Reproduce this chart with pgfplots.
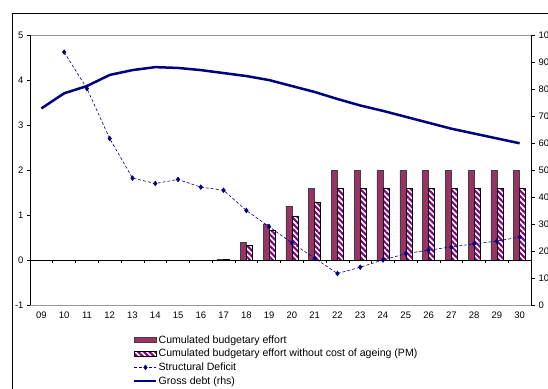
\documentclass[border=0pt]{standalone}
\usepackage{pgfplots}
\pgfplotsset{compat=1.18}
\usepackage{fontspec}
\setmainfont{Liberation Sans}
\usetikzlibrary{patterns.meta}
\definecolor{plum}{HTML}{993366}
\definecolor{purp}{HTML}{800080}
\definecolor{navy}{HTML}{000080}
\pgfplotsset{
  barleg/.style={legend image code/.code={\draw[##1] (0bp,-2.5bp) rectangle (22bp,2.5bp);}},
  markleg/.style={legend image code/.code={\draw[mark repeat=2,mark phase=2,##1] plot coordinates {(0bp,0bp)(11bp,0bp)(22bp,0bp)};}},
  lineleg/.style={legend image code/.code={\draw[##1] (0bp,0bp) -- (22bp,0bp);}},
}
\begin{document}
\begin{tikzpicture}
\begin{axis}[name=ax, at={(0,0)}, anchor=south west, scale only axis,
  width=501bp, height=270bp,
  xmin=-0.5, xmax=21.5, ymin=-1, ymax=5, ytick={-1,0,...,5},
  xtick={0,...,21},
  xticklabels={09,10,11,12,13,14,15,16,17,18,19,20,21,22,23,24,25,26,27,28,29,30},
  separate axis lines,
  x axis line style={draw=gray!80, line width=0.6bp},
  y axis line style={draw=black, line width=0.8bp},
  ytick pos=left, xtick pos=bottom,
  x tick style={draw=none}, y tick style={black, line width=0.6bp},
  major tick length=3bp, tick align=outside,
  tick label style={font=\fontsize{9.5}{10}\selectfont},
  /pgf/number format/assume math mode=true,
  legend style={at={(0.2056,-0.108)}, anchor=north west, draw=none, fill=none,
    font=\fontsize{10.6}{12}\selectfont, inner sep=0pt, row sep=2.6bp,
    nodes={inner sep=1bp}},
  legend cell align=left,
]
\addplot[ybar, bar width=6bp, bar shift=-3bp, fill=plum, draw=black!75, line width=0.5bp, barleg]
  coordinates {(8,0.01)(9,0.4)(10,0.8)(11,1.2)(12,1.6)(13,2)(14,2)(15,2)(16,2)(17,2)(18,2)(19,2)(20,2)(21,2)};
\addlegendentry{Cumulated budgetary effort}
\addplot[ybar, bar width=6bp, bar shift=3bp, draw=black, line width=0.5bp,
  pattern={Lines[angle=-45,distance=4bp,line width=2.1bp]}, pattern color=purp, barleg]
  coordinates {(8,0.01)(9,0.33)(10,0.66)(11,0.98)(12,1.29)(13,1.6)(14,1.6)(15,1.6)(16,1.6)(17,1.6)(18,1.6)(19,1.6)(20,1.6)(21,1.6)};
\addlegendentry{Cumulated budgetary effort without cost of ageing (PM)}
\draw[black, line width=0.7bp] (axis cs:-0.5,0) -- (axis cs:21.5,0);
\draw[black, line width=0.6bp] (axis cs:0.5,0) -- ++(0pt,-3bp) (axis cs:1.5,0) -- ++(0pt,-3bp) (axis cs:2.5,0) -- ++(0pt,-3bp) (axis cs:3.5,0) -- ++(0pt,-3bp) (axis cs:4.5,0) -- ++(0pt,-3bp) (axis cs:5.5,0) -- ++(0pt,-3bp) (axis cs:6.5,0) -- ++(0pt,-3bp) (axis cs:7.5,0) -- ++(0pt,-3bp) (axis cs:8.5,0) -- ++(0pt,-3bp) (axis cs:9.5,0) -- ++(0pt,-3bp) (axis cs:10.5,0) -- ++(0pt,-3bp) (axis cs:11.5,0) -- ++(0pt,-3bp) (axis cs:12.5,0) -- ++(0pt,-3bp) (axis cs:13.5,0) -- ++(0pt,-3bp) (axis cs:14.5,0) -- ++(0pt,-3bp) (axis cs:15.5,0) -- ++(0pt,-3bp) (axis cs:16.5,0) -- ++(0pt,-3bp) (axis cs:17.5,0) -- ++(0pt,-3bp) (axis cs:18.5,0) -- ++(0pt,-3bp) (axis cs:19.5,0) -- ++(0pt,-3bp) (axis cs:20.5,0) -- ++(0pt,-3bp);
\addplot[navy, densely dashed, line width=0.6bp, mark=diamond*, mark size=2.3bp, mark options={solid}, markleg]
  coordinates {(1,4.62)(2,3.81)(3,2.70)(4,1.82)(5,1.70)(6,1.79)(7,1.62)(8,1.55)(9,1.10)(10,0.74)(11,0.38)(12,0.04)(13,-0.30)(14,-0.16)(15,0.0)(16,0.14)(17,0.22)(18,0.29)(19,0.36)(20,0.42)(21,0.51)};
\addlegendentry{Structural Deficit}
\addlegendimage{navy, line width=2.5bp, lineleg}
\addlegendentry{Gross debt (rhs)}
\end{axis}
\begin{axis}[at={(ax.south west)}, anchor=south west, scale only axis,
  width=501bp, height=270bp,
  xmin=-0.5, xmax=21.5, ymin=0, ymax=100, ytick={0,10,...,100},
  axis x line=none, axis y line*=right,
  y axis line style={draw=black, line width=0.8bp},
  y tick style={black, line width=0.6bp},
  major tick length=4bp, tick align=outside,
  tick label style={font=\fontsize{9.5}{10}\selectfont},
  /pgf/number format/assume math mode=true,
]
\addplot[navy, line width=2.5bp] coordinates {(0,72.8)(1,78.4)(2,81.1)(3,85.2)(4,87.0)(5,88.1)(6,87.8)(7,87.0)(8,85.9)(9,84.8)(10,83.3)(11,81.1)(12,78.9)(13,76.3)(14,73.9)(15,71.9)(16,69.7)(17,67.5)(18,65.3)(19,63.5)(20,61.7)(21,59.9)};
\end{axis}
\draw[black, line width=0.8bp] ([shift={(-18bp,292bp)}]ax.south west) -- ++(800bp,0pt);
\draw[black, line width=0.8bp] ([shift={(-18bp,292bp)}]ax.south west) -- ++(0pt,-600bp);
\pgfresetboundingbox
\path[use as bounding box] ([shift={(-30bp,-84bp)}]ax.south west) rectangle ([shift={(518bp,305bp)}]ax.south west);
\end{tikzpicture}
\end{document}
